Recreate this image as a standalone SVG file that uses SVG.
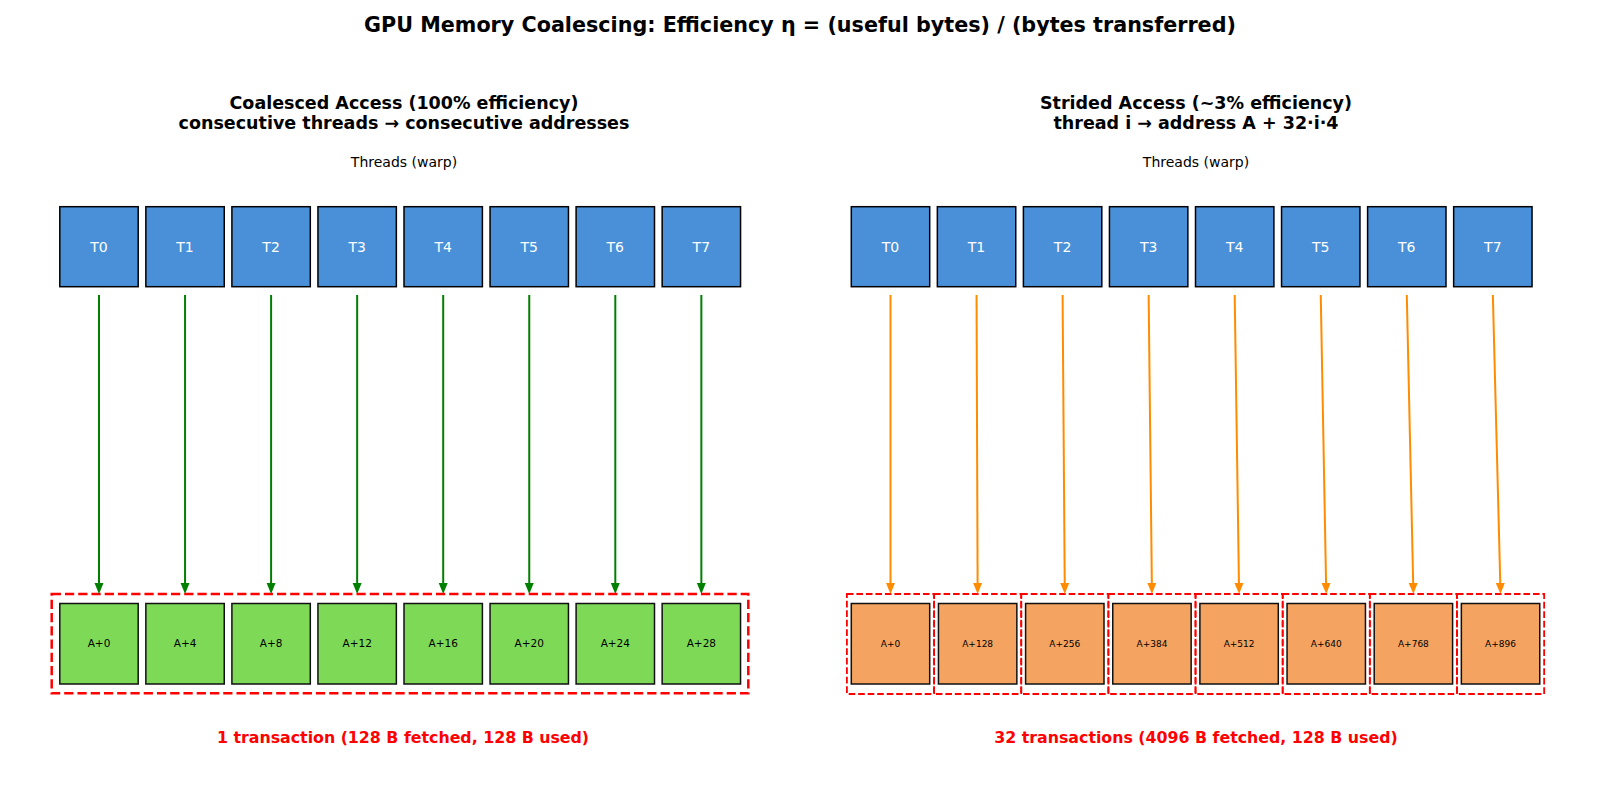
<svg xmlns="http://www.w3.org/2000/svg" width="1600" height="800" viewBox="0 0 1600 800">
<style>
text{font-family:"DejaVu Sans","Liberation Sans",sans-serif;text-anchor:middle}
.title{font-size:20.7px;font-weight:bold;fill:#000}
.sub{font-size:17.5px;font-weight:bold;fill:#000}
.lab{font-size:14px;fill:#000}
.thr rect{fill:#4a90d9;stroke:#000;stroke-width:1.5}
.thr text{font-size:14px;fill:#fff}
.memg rect{fill:#7ed957;stroke:#111;stroke-width:1.5}
.memo rect{fill:#f4a460;stroke:#111;stroke-width:1.5}
.memg text{font-size:10.5px;fill:#000}
.memo text{font-size:9px;fill:#000}
.txn{fill:none;stroke:#ff0000}
.big{stroke-width:2.5;stroke-dasharray:9.25 4}
.small{stroke-width:1.8;stroke-dasharray:6.6 2.9}
.foot{font-size:15.8px;font-weight:bold;fill:#ff0000}
.ag{stroke:#008000;stroke-width:2;fill:none;marker-end:url(#hg)}
.ao{stroke:#ff8c00;stroke-width:2;fill:none;marker-end:url(#ho)}
</style>
<defs>
<marker id="hg" markerUnits="userSpaceOnUse" markerWidth="11" markerHeight="9" refX="0" refY="4.5" orient="auto" overflow="visible"><path d="M0,0 L11,4.5 L0,9 Z" fill="#008000"/></marker>
<marker id="ho" markerUnits="userSpaceOnUse" markerWidth="11" markerHeight="9" refX="0" refY="4.5" orient="auto" overflow="visible"><path d="M0,0 L11,4.5 L0,9 Z" fill="#ff8c00"/></marker>
</defs>
<rect width="1600" height="800" fill="#fff"/>
<text class="title" x="800" y="31.5">GPU Memory Coalescing: Efficiency η = (useful bytes) / (bytes transferred)</text>

<g id="left-headings">
<text class="sub" x="404" y="109">Coalesced Access (100% efficiency)</text>
<text class="sub" x="404" y="128.5">consecutive threads → consecutive addresses</text>
<text class="lab" x="404" y="167">Threads (warp)</text>
</g>
<g id="right-headings">
<text class="sub" x="1196" y="109">Strided Access (~3% efficiency)</text>
<text class="sub" x="1196" y="128.5">thread i → address A + 32·i·4</text>
<text class="lab" x="1196" y="167">Threads (warp)</text>
</g>

<g id="left-threads" class="thr">
<g id="L-T0"><rect x="59.8" y="206.7" width="78.4" height="80"/><text x="99" y="251.5">T0</text></g>
<g id="L-T1"><rect x="145.85" y="206.7" width="78.4" height="80"/><text x="185.05" y="251.5">T1</text></g>
<g id="L-T2"><rect x="231.9" y="206.7" width="78.4" height="80"/><text x="271.1" y="251.5">T2</text></g>
<g id="L-T3"><rect x="317.95" y="206.7" width="78.4" height="80"/><text x="357.15" y="251.5">T3</text></g>
<g id="L-T4"><rect x="404" y="206.7" width="78.4" height="80"/><text x="443.2" y="251.5">T4</text></g>
<g id="L-T5"><rect x="490.05" y="206.7" width="78.4" height="80"/><text x="529.25" y="251.5">T5</text></g>
<g id="L-T6"><rect x="576.1" y="206.7" width="78.4" height="80"/><text x="615.3" y="251.5">T6</text></g>
<g id="L-T7"><rect x="662.15" y="206.7" width="78.4" height="80"/><text x="701.35" y="251.5">T7</text></g>
</g>

<g id="left-memory" class="memg">
<g id="L-M0"><rect x="59.8" y="603.5" width="78.4" height="80.5"/><text x="99" y="647">A+0</text></g>
<g id="L-M1"><rect x="145.85" y="603.5" width="78.4" height="80.5"/><text x="185.05" y="647">A+4</text></g>
<g id="L-M2"><rect x="231.9" y="603.5" width="78.4" height="80.5"/><text x="271.1" y="647">A+8</text></g>
<g id="L-M3"><rect x="317.95" y="603.5" width="78.4" height="80.5"/><text x="357.15" y="647">A+12</text></g>
<g id="L-M4"><rect x="404" y="603.5" width="78.4" height="80.5"/><text x="443.2" y="647">A+16</text></g>
<g id="L-M5"><rect x="490.05" y="603.5" width="78.4" height="80.5"/><text x="529.25" y="647">A+20</text></g>
<g id="L-M6"><rect x="576.1" y="603.5" width="78.4" height="80.5"/><text x="615.3" y="647">A+24</text></g>
<g id="L-M7"><rect x="662.15" y="603.5" width="78.4" height="80.5"/><text x="701.35" y="647">A+28</text></g>
</g>

<g id="left-transaction">
<rect class="txn big" x="51.7" y="594" width="696.6" height="99.3"/>
</g>

<g id="right-threads" class="thr">
<g id="R-T0"><rect x="851.3" y="206.7" width="78.4" height="80"/><text x="890.5" y="251.5">T0</text></g>
<g id="R-T1"><rect x="937.35" y="206.7" width="78.4" height="80"/><text x="976.55" y="251.5">T1</text></g>
<g id="R-T2"><rect x="1023.4" y="206.7" width="78.4" height="80"/><text x="1062.6" y="251.5">T2</text></g>
<g id="R-T3"><rect x="1109.45" y="206.7" width="78.4" height="80"/><text x="1148.65" y="251.5">T3</text></g>
<g id="R-T4"><rect x="1195.5" y="206.7" width="78.4" height="80"/><text x="1234.7" y="251.5">T4</text></g>
<g id="R-T5"><rect x="1281.55" y="206.7" width="78.4" height="80"/><text x="1320.75" y="251.5">T5</text></g>
<g id="R-T6"><rect x="1367.6" y="206.7" width="78.4" height="80"/><text x="1406.8" y="251.5">T6</text></g>
<g id="R-T7"><rect x="1453.65" y="206.7" width="78.4" height="80"/><text x="1492.85" y="251.5">T7</text></g>
</g>

<g id="right-memory" class="memo">
<g id="R-M0"><rect x="851.3" y="603.5" width="78.4" height="80.5"/><text x="890.5" y="647">A+0</text></g>
<g id="R-M1"><rect x="938.45" y="603.5" width="78.4" height="80.5"/><text x="977.65" y="647">A+128</text></g>
<g id="R-M2"><rect x="1025.6" y="603.5" width="78.4" height="80.5"/><text x="1064.8" y="647">A+256</text></g>
<g id="R-M3"><rect x="1112.75" y="603.5" width="78.4" height="80.5"/><text x="1151.95" y="647">A+384</text></g>
<g id="R-M4"><rect x="1199.9" y="603.5" width="78.4" height="80.5"/><text x="1239.1" y="647">A+512</text></g>
<g id="R-M5"><rect x="1287.05" y="603.5" width="78.4" height="80.5"/><text x="1326.25" y="647">A+640</text></g>
<g id="R-M6"><rect x="1374.2" y="603.5" width="78.4" height="80.5"/><text x="1413.4" y="647">A+768</text></g>
<g id="R-M7"><rect x="1461.35" y="603.5" width="78.4" height="80.5"/><text x="1500.55" y="647">A+896</text></g>
</g>

<g id="right-transactions">
<rect class="txn small" x="846.9" y="594" width="87.2" height="100"/>
<rect class="txn small" x="934.05" y="594" width="87.2" height="100"/>
<rect class="txn small" x="1021.2" y="594" width="87.2" height="100"/>
<rect class="txn small" x="1108.35" y="594" width="87.2" height="100"/>
<rect class="txn small" x="1195.5" y="594" width="87.2" height="100"/>
<rect class="txn small" x="1282.65" y="594" width="87.2" height="100"/>
<rect class="txn small" x="1369.8" y="594" width="87.2" height="100"/>
<rect class="txn small" x="1456.95" y="594" width="87.2" height="100"/>
</g>

<g id="connectors">
<line class="ag" x1="99" y1="295" x2="99" y2="583"/>
<line class="ag" x1="185.05" y1="295" x2="185.05" y2="583"/>
<line class="ag" x1="271.1" y1="295" x2="271.1" y2="583"/>
<line class="ag" x1="357.15" y1="295" x2="357.15" y2="583"/>
<line class="ag" x1="443.2" y1="295" x2="443.2" y2="583"/>
<line class="ag" x1="529.25" y1="295" x2="529.25" y2="583"/>
<line class="ag" x1="615.3" y1="295" x2="615.3" y2="583"/>
<line class="ag" x1="701.35" y1="295" x2="701.35" y2="583"/>
<line class="ao" x1="890.5" y1="295" x2="890.5" y2="583"/>
<line class="ao" x1="976.55" y1="295" x2="977.61" y2="583"/>
<line class="ao" x1="1062.6" y1="295" x2="1064.72" y2="583"/>
<line class="ao" x1="1148.65" y1="295" x2="1151.83" y2="583"/>
<line class="ao" x1="1234.7" y1="295" x2="1238.94" y2="583"/>
<line class="ao" x1="1320.75" y1="295" x2="1326.05" y2="583"/>
<line class="ao" x1="1406.8" y1="295" x2="1413.16" y2="583"/>
<line class="ao" x1="1492.85" y1="295" x2="1500.27" y2="583"/>
</g>

<g id="footers">
<text class="foot" x="403" y="742.7">1 transaction (128 B fetched, 128 B used)</text>
<text class="foot" x="1196" y="742.7">32 transactions (4096 B fetched, 128 B used)</text>
</g>
</svg>
